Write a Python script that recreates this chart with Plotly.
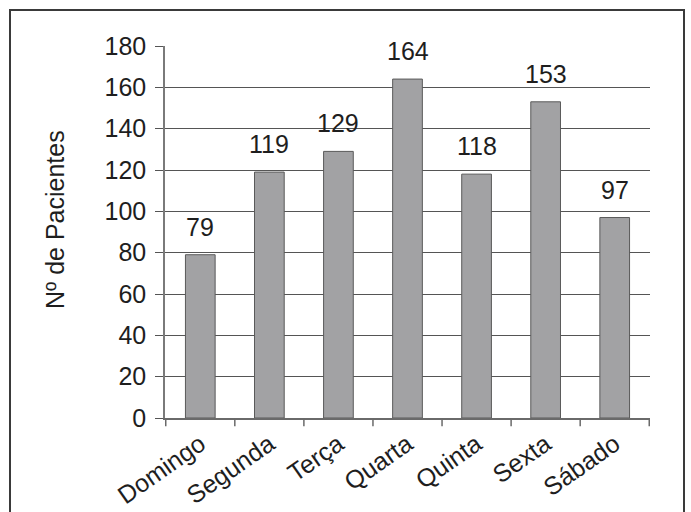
import plotly.graph_objects as go

# Patients per day of the week
dias = ["Domingo", "Segunda", "Terça", "Quarta", "Quinta", "Sexta", "Sábado"]
pacientes = [79, 119, 129, 164, 118, 153, 97]
y_ticks = [0, 20, 40, 60, 80, 100, 120, 140, 160, 180]

FONT = "Liberation Sans, Arial, sans-serif"
TXT = "#1e1e1e"
FS = 25

W, H = 691, 512
ML, MR, MT, MB = 165, 41, 46, 94
PW, PH = W - ML - MR, H - MT - MB


def px_x(x):
    """Convert a page pixel x into paper coordinates."""
    return (x - ML) / PW


def px_y(y):
    """Convert a page pixel y into paper coordinates."""
    return (H - MB - y) / PH


fig = go.Figure()
fig.add_trace(go.Bar(
    x=dias,
    y=pacientes,
    width=0.43,
    marker=dict(color="#a2a2a4", line=dict(color="#5a5a5a", width=1)),
    hoverinfo="x+y",
))

# value labels above each bar
for d, v in zip(dias, pacientes):
    fig.add_annotation(
        x=d, y=v, text=str(v), showarrow=False,
        xref="x", yref="y", yanchor="bottom", yshift=12,
        font=dict(family=FONT, size=FS, color=TXT),
    )

# y-axis title
fig.add_annotation(
    x=px_x(55), y=px_y(220), xref="paper", yref="paper",
    text="Nº de Pacientes", showarrow=False, textangle=-90,
    xanchor="center", yanchor="middle",
    font=dict(family=FONT, size=FS, color=TXT),
)

# frame around the whole chart
fig.add_shape(
    type="rect", xref="paper", yref="paper",
    x0=px_x(10), x1=px_x(684), y0=px_y(530), y1=px_y(10),
    line=dict(color="#3a3a3a", width=2), fillcolor="rgba(0,0,0,0)",
    layer="below",
)

fig.update_layout(
    width=W, height=H,
    margin=dict(l=ML, r=MR, t=MT, b=MB, autoexpand=False),
    paper_bgcolor="white", plot_bgcolor="white",
    showlegend=False,
    xaxis=dict(
        automargin=False,
        showgrid=False, tickangle=-35,
        tickfont=dict(family=FONT, size=FS, color=TXT),
        ticks="outside", ticklen=0,
        showline=True, linecolor="#6a6a6a", linewidth=1.5,
        fixedrange=True,
    ),
    yaxis=dict(
        automargin=False,
        range=[0, 180], tickvals=y_ticks,
        showgrid=True, gridcolor="#555555", gridwidth=1.2,
        zeroline=False,
        showline=True, linecolor="#7a7a7a", linewidth=1.5,
        ticks="outside", ticklen=8, tickcolor="#555555",
        tickfont=dict(family=FONT, size=FS, color=TXT),
        ticklabelstandoff=4,
        fixedrange=True,
    ),
)

# x-axis tick marks at the category boundaries
for i in range(len(dias) + 1):
    fig.add_shape(
        type="line", xref="x", yref="paper",
        x0=i - 0.5, x1=i - 0.5, y0=0, y1=-0.022,
        line=dict(color="#6a6a6a", width=1.5),
    )

fig.write_html("out.html")
